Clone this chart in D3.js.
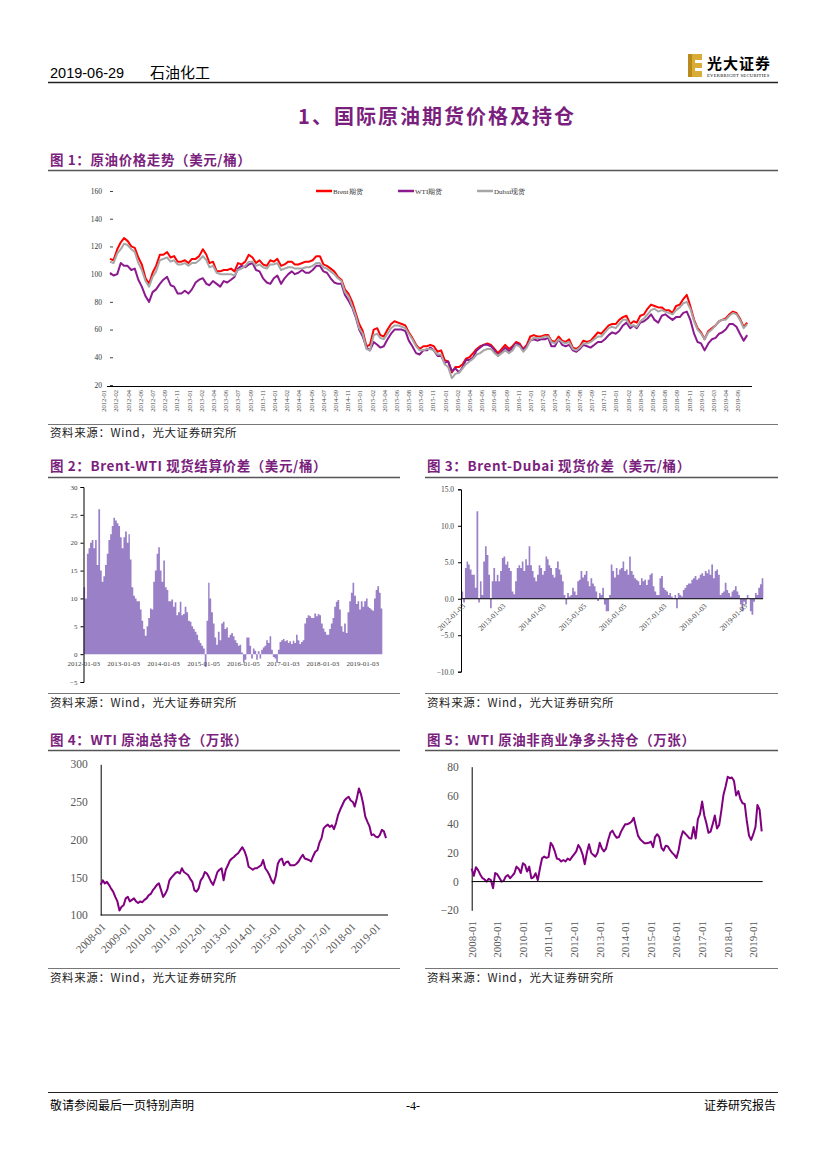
<!DOCTYPE html>
<html><head><meta charset="utf-8">
<script src="https://cdn.jsdelivr.net/npm/d3@7"></script>
<style>body{margin:0;background:#fff;}svg{display:block;}</style>
</head><body>
<svg id="page" width="827" height="1169"></svg>
<script>
// ---------- DATA ----------
// Chart 1: semi-monthly, 2012-01 .. 2019-06 (USD/bbl)
const brent = [111,110,118,123,126,124,120,119,112,107,97,93,101,106,114,114,116,112,113,109,109,110,108,111,
111,113,118,114,108,109,102,102,103,103,104,102,108,107,109,114,112,108,110,107,106,110,109,111,
106,107,109,109,107,107,108,109,109,110,113,113,107,106,104,102,98,96,89,86,80,72,64,59,
48,49,60,61,56,55,60,64,66,65,64,63,58,54,49,46,48,48,49,48,44,45,38,37,
29,33,33,35,39,40,43,46,48,49,50,49,46,43,46,49,46,48,51,50,46,49,55,56,
55,55,56,56,52,51,55,52,51,53,47,46,48,52,51,52,55,58,57,60,63,64,64,67,
69,70,64,66,65,70,71,75,78,77,76,76,74,74,72,77,78,82,85,77,67,61,58,53,
59,61,63,66,67,68,71,73,72,68,62,65];
const wti = [101,99,100,108,106,106,103,104,96,91,84,80,87,89,93,96,98,92,91,86,86,88,86,89,
94,96,97,93,92,95,93,91,95,94,96,98,104,106,105,107,108,103,102,97,94,93,97,99,
93,97,100,102,100,101,103,101,101,103,106,106,102,101,97,94,93,93,85,81,76,69,60,55,
47,45,51,49,47,48,53,57,60,60,60,59,52,48,43,42,45,45,47,45,41,41,36,37,
30,32,29,33,38,38,40,45,47,49,49,48,45,41,44,47,44,47,50,49,45,48,52,53,
52,53,53,54,48,48,53,49,48,49,45,44,46,49,48,47,49,51,51,53,56,58,57,59,
63,65,61,63,61,65,66,68,71,67,65,70,71,69,67,69,69,72,73,67,57,51,50,45,
50,53,54,57,58,60,64,64,62,57,52,56];
const dubai = [109,108,115,118,122,121,118,116,108,103,95,91,98,102,110,111,112,109,110,107,107,108,106,108,
108,110,113,110,105,106,101,100,100,100,100,99,103,104,106,109,109,106,107,105,104,107,107,108,
103,104,105,105,104,104,104,105,105,106,108,108,105,104,102,100,97,95,87,84,77,70,61,57,
46,45,56,57,54,53,57,61,63,63,62,61,57,53,48,45,45,46,46,45,42,42,35,33,
25,28,29,32,35,37,39,42,43,45,46,46,43,41,43,45,43,45,49,48,44,47,52,54,
54,54,55,55,51,50,53,51,50,51,46,45,47,50,50,51,53,55,55,58,61,62,61,64,
67,67,63,63,62,66,68,71,74,75,73,74,73,72,71,74,76,79,80,75,66,60,57,53,
58,60,63,66,67,67,70,72,71,67,61,64];
const c1Series = ["Brent期货","WTI期货","Dubai现货"];
const c1YTicks = [20,40,60,80,100,120,140,160];
const c1XTicks = ["2012-01","2012-02","2012-04","2012-06","2012-07","2012-09","2012-11","2013-01","2013-02","2013-04",
"2013-06","2013-07","2013-09","2013-11","2014-01","2014-02","2014-04","2014-06","2014-07","2014-09",
"2014-11","2015-01","2015-02","2015-04","2015-06","2015-08","2015-09","2015-11","2016-01","2016-02",
"2016-04","2016-06","2016-08","2016-09","2016-11","2017-01","2017-02","2017-04","2017-06","2017-08",
"2017-09","2017-11","2018-01","2018-02","2018-04","2018-06","2018-08","2018-09","2018-11","2019-01",
"2019-03","2019-04","2019-06"];

// Chart 2: Brent-WTI spot spread, semi-monthly 2012-01 .. 2019-06
const brentWti = [12,10,18,19,20,20.5,19,20.5,16,26,15,13,14,16,18,20.5,21.5,23,24.5,24,23.5,23,21,19,
21,22,20,21.5,17,12,10.5,10,9.5,9.5,8,6,4.5,3.3,5,6.5,8.2,8,13,15,18,19.2,15,13,
16.8,12,11.5,9.5,9.5,9.8,8.5,9.3,7,7.5,9.4,7,7.2,8.5,7.5,6,5.8,5,4.5,4,3.5,2.5,2,1.5,
1,-2.3,6,12.8,10,7.5,5.5,3,1.7,4,2.5,5.5,5.8,4.5,4.8,3,3.5,3.8,3.2,2.5,2,1.5,1.7,0.3,
-1.5,-1,3,3,1.5,-0.8,1,0.6,-1,0.5,-0.8,0.8,1.2,1.5,2.5,2,3.2,0.8,-0.5,-0.8,-1.5,0.8,2.2,2.5,
2.7,2.3,2.5,2,2.3,1.8,2.4,2,3.5,2.5,1.8,2.2,2.5,5.5,6.5,7,6.8,6.5,6.5,7.3,6.8,7.2,7,5.5,
4.6,4,3.5,3.5,4.5,5.5,6.5,8.5,9.4,9.7,8,5,4,5.5,3.8,7.5,9.5,11,12.8,10.5,9,9.5,8,9.5,
8.5,9.5,10,8.5,8.3,8,7.8,10,11.5,12.2,11,8.2];
const c2YTicks = [-5,0,5,10,15,20,25,30];
const c2XTicks = ["2012-01-03","2013-01-03","2014-01-03","2015-01-05","2016-01-05","2017-01-03","2018-01-03","2019-01-03"];

// Chart 3: Brent-Dubai spot spread, semi-monthly 2012-01 .. 2019-06
const brentDubai = [1,-0.5,4.2,5.1,4.7,4,3.3,3.3,1.5,12,-0.5,2.4,0.5,5.1,7.2,6,3.3,-1.3,2.4,4.2,2.4,3.3,2.4,3.8,
5.6,5.8,4.7,5.1,4.2,3.8,1,0.6,2.4,4.2,4.6,4.2,5.1,3.8,5.4,4.6,7.2,4.6,3.8,2.9,2.4,3.3,4.6,4.2,
3.3,3.8,5.8,5.4,4.6,4.2,3.3,2.9,4.2,5.1,4,3.3,2.4,0.5,-0.8,0.8,0.3,0.5,1.5,1,0.5,2.4,2.6,3.8,
2.9,3.3,3.8,2.4,1.7,2.8,2.1,1.7,1,-0.3,0.8,0.5,1.5,-0.8,-1.7,-1.7,0.5,4.7,3.8,2.9,4.2,3.3,4,4.2,
5.1,3.8,4,3.3,5.8,3.8,3.3,2.8,2.6,2.4,1.9,2.8,2.4,2.6,1.9,2.6,3.3,3.5,1.7,1,0.5,0.5,2.8,3.1,
1.5,1.2,1,0.5,0.8,0.3,0.1,0.5,-1.3,0.8,0.5,0.3,1.2,1.5,1.9,2.1,2.1,2.6,2.8,3.1,2.6,2.8,3.3,3.5,
3.1,3.8,3.5,4,3.3,4.7,2.8,3.8,4,3.3,0.5,0.8,1,2.2,1.2,0.8,0.3,1,1.2,1.7,1,0.5,-0.8,-1.7,
-0.4,-0.8,0.5,0.1,-1.7,-2.2,-0.4,0.8,0.5,1.5,2.0,2.8];
const c3YTicks = [-10,-5,0,5,10,15];
const c3XTicks = ["2012-01-03","2013-01-03","2014-01-03","2015-01-05","2016-01-05","2017-01-03","2018-01-03","2019-01-03"];

// Chart 4: WTI total open interest (10k contracts), monthly 2008-01 .. 2019-06
const wtiOI = [140,146,142,144,140,135,131,124,118,106,111,113,
122,124,118,120,122,118,116,118,117,120,122,126,
128,133,136,140,142,133,124,128,134,146,150,153,
156,157,155,162,157,155,153,148,144,133,131,135,
146,150,157,155,150,144,140,148,157,160,162,146,
160,166,172,175,177,180,182,186,190,185,177,164,
162,160,162,162,164,166,173,162,158,153,146,142,
151,168,173,175,166,170,171,166,166,166,168,171,
176,180,175,174,173,171,178,184,186,196,202,215,
218,220,217,219,214,222,233,240,246,252,255,257,
252,250,244,255,268,260,248,231,224,218,206,207,
204,203,206,213,211,202];
const c4YTicks = [100,150,200,250,300];

// Chart 5: WTI non-commercial net long (10k contracts), monthly 2008-01 .. 2019-05
const wtiNetLong = [9,4,10,8,5,2.5,1.5,0,2,1,-4.6,6,
5,2.5,0,0.5,3.5,4.6,2.3,4,5.8,10.4,9,6,
12.8,11.6,7,10.4,2.3,3,5.8,1,9.3,16.2,17.4,16.5,
17,27,25,21,16,15.5,14,15,14,16,15,17,
19,21,25.5,23,19,12,20,26,20,18.6,17.4,20,
27,23,21,23,29,34,35.5,32.5,30.5,31,34.8,37.5,
40,40,40.6,41.8,44.5,38,32,29.5,28,26.7,26.7,27,
27.8,24,31,33,31,23.5,21.5,25,24.4,22,20,18.6,
16.5,22,30,35,33.6,32,30.2,30,38,30,43.5,47,
55.7,46,41,34,34.8,40,46,37,39.4,49,60.3,66,
73,72,72.5,70,60,63,57.5,54.5,54,42,32,29,
33,38,53.4,50,35];
const c5YTicks = [-20,0,20,40,60,80];
const yearTicks = ["2008-01","2009-01","2010-01","2011-01","2012-01","2013-01","2014-01","2015-01","2016-01","2017-01","2018-01","2019-01"];

// ---------- DRAW ----------
const svg = d3.select('#page');
const CJK = '"Noto Sans CJK SC","Noto Sans",sans-serif';
const SERIF = '"Liberation Serif","DejaVu Serif",serif';
const SANS = '"Liberation Sans",Arial,sans-serif';
const TPURP = '#7b1f7e';
const hm = (y0, i) => new Date(y0, Math.floor(i / 2), i % 2 ? 16 : 1);
const mo = (y0, i) => new Date(y0, i, 1);
const parseYM = d3.timeParse('%Y-%m');
const parseYMD = d3.timeParse('%Y-%m-%d');

function text(x, y, s, o = {}) {
  return svg.append('text').attr('x', x).attr('y', y).text(s)
    .attr('font-family', o.ff || CJK).attr('font-size', o.fs || 12)
    .attr('font-weight', o.fw || 'normal').attr('fill', o.fill || '#000')
    .attr('text-anchor', o.anchor || 'start')
    .attr('letter-spacing', o.ls || 0);
}
function hline(x1, x2, y, w = 1, c = '#333') {
  svg.append('line').attr('x1', x1).attr('x2', x2).attr('y1', y).attr('y2', y)
    .attr('stroke', c).attr('stroke-width', w);
}

// Header
text(50, 78, '2019-06-29', {ff: SANS, fs: 14.5});
text(150, 78, '石油化工', {fs: 15});
hline(48, 778, 82.5, 1.5, '#222');
const lg = svg.append('g');
lg.append('rect').attr('x', 688).attr('y', 54).attr('width', 14).attr('height', 23).attr('fill', '#d9ad35');
lg.append('rect').attr('x', 695).attr('y', 60).attr('width', 7).attr('height', 3).attr('fill', '#fff');
lg.append('rect').attr('x', 695).attr('y', 68).attr('width', 7).attr('height', 3).attr('fill', '#fff');
lg.append('rect').attr('x', 688).attr('y', 54).attr('width', 4).attr('height', 23).attr('fill', '#b98a1c');
text(707, 69, '光大证券', {fs: 15, fw: 'bold', ls: 1});
text(707, 76.5, 'EVERBRIGHT SECURITIES', {ff: SERIF, fs: 4.6, ls: 0.3});

// Section title
text(437, 124, '1、国际原油期货价格及持仓', {fs: 20, fw: 'bold', fill: TPURP, anchor: 'middle', ls: 2});

// Figure titles & rules
const figTitle = (x, y, s) => text(x, y, s, {fs: 13.5, fw: 'bold', fill: TPURP, ls: 0.6});
figTitle(50, 165, '图 1：原油价格走势（美元/桶）');
hline(48, 778, 170.5, 1.5, '#555');
figTitle(50, 471, '图 2：Brent-WTI 现货结算价差（美元/桶）');
figTitle(427, 471, '图 3：Brent-Dubai 现货价差（美元/桶）');
hline(48, 400, 477.5, 1.5, '#555'); hline(425, 778, 477.5, 1.5, '#555');
figTitle(50, 745, '图 4：WTI 原油总持仓（万张）');
figTitle(427, 745, '图 5：WTI 原油非商业净多头持仓（万张）');
hline(48, 400, 750.5, 1.5, '#555'); hline(425, 778, 750.5, 1.5, '#555');

// Source lines
const src = '资料来源：Wind，光大证券研究所';
hline(48, 778, 424.5, 1.2, '#777');
text(50, 437, src, {fs: 11.5, ls: 0.6, fill: '#222'});
hline(48, 400, 693.5, 1.2, '#777'); hline(425, 778, 693.5, 1.2, '#777');
text(50, 707, src, {fs: 11.5, ls: 0.6, fill: '#222'});
text(427, 707, src, {fs: 11.5, ls: 0.6, fill: '#222'});
hline(48, 400, 968.5, 1.2, '#777'); hline(425, 778, 968.5, 1.2, '#777');
text(50, 982, src, {fs: 11.5, ls: 0.6, fill: '#222'});
text(427, 982, src, {fs: 11.5, ls: 0.6, fill: '#222'});

// Footer
hline(48, 778, 1092.5, 1, '#222');
text(50, 1110, '敬请参阅最后一页特别声明', {fs: 12});
text(413, 1110, '-4-', {ff: SERIF, fs: 12, anchor: 'middle'});
text(776, 1110, '证券研究报告', {fs: 12, anchor: 'end'});

// ---------- Chart 1 ----------
{
  const x = d3.scaleTime().domain([new Date(2012, 0, 1), new Date(2019, 5, 28)]).range([110, 750]);
  const y = d3.scaleLinear().domain([20, 160]).range([385, 191]);
  const g = svg.append('g');
  const ya = g.append('g').attr('transform', 'translate(113,0)')
    .call(d3.axisLeft(y).tickValues(c1YTicks).tickSize(3).tickPadding(8));
  ya.select('.domain').remove();
  ya.selectAll('line').attr('stroke', '#444');
  ya.selectAll('text').attr('font-family', SERIF).attr('font-size', 7.5).attr('fill', '#333');
  hline(107, 752, 386.5, 1, '#000');
  const xl = d3.scaleLinear().domain([0, c1XTicks.length - 1]).range([104, 738]);
  g.selectAll('.c1x').data(c1XTicks).join('text')
    .attr('transform', (d, i) => `translate(${xl(i)},390) rotate(-90)`)
    .attr('text-anchor', 'end').attr('dy', '0.35em')
    .attr('font-family', SERIF).attr('font-size', 6.5).attr('fill', '#444').text(d => d);
  const ln = d3.line().x((d, i) => x(hm(2012, i))).y(d => y(d));
  const cols = ['#ff0000', '#8b1a8e', '#a6a6a6'];
  [brent, wti, dubai].forEach((s, k) => {
    g.append('path').datum(s).attr('d', ln).attr('fill', 'none')
      .attr('stroke', cols[k]).attr('stroke-width', 2).attr('stroke-linejoin', 'round');
  });
  const lx = [316, 398, 477];
  c1Series.forEach((s, k) => {
    hline(lx[k], lx[k] + 16, 191, 2.5, cols[k]);
    text(lx[k] + 17, 193.5, s, {ff: SERIF, fs: 7, fill: '#333'});
  });
}

// step-bar area helper (dense daily bars look like a continuous column fill)
function barArea(g, data, x, y, y0, color) {
  const pts = data.map((v, i) => [hm(2012, i), v]);
  pts.push([hm(2012, data.length), data[data.length - 1]]);
  const ar = d3.area().curve(d3.curveStepAfter)
    .x(d => x(d[0])).y0(y(0)).y1(d => y(d[1]));
  g.append('path').datum(pts).attr('d', ar).attr('fill', color).attr('stroke', 'none');
}

// ---------- Chart 2 ----------
{
  const x = d3.scaleTime().domain([new Date(2012, 0, 1), new Date(2019, 5, 28)]).range([83.5, 382]);
  const y = d3.scaleLinear().domain([-5, 30]).range([682, 487]);
  const g = svg.append('g');
  barArea(g, brentWti, x, y, 0, '#9a80c7');
  const ya = g.append('g').attr('transform', 'translate(83.5,0)')
    .call(d3.axisLeft(y).tickValues(c2YTicks).tickSize(3).tickPadding(3));
  ya.select('.domain').attr('stroke', '#000');
  ya.selectAll('text').attr('font-family', SERIF).attr('font-size', 7).attr('fill', '#444');
  g.selectAll('.c2x').data(c2XTicks).join('text')
    .attr('x', d => x(parseYMD(d))).attr('y', 666)
    .attr('text-anchor', 'middle').attr('font-family', SERIF).attr('font-size', 7).attr('fill', '#444')
    .text(d => d);
}

// ---------- Chart 3 ----------
{
  const x = d3.scaleTime().domain([new Date(2012, 0, 1), new Date(2019, 5, 28)]).range([461.5, 763]);
  const y = d3.scaleLinear().domain([-10, 15]).range([671.7, 489.3]);
  const g = svg.append('g');
  barArea(g, brentDubai, x, y, 0, '#9a80c7');
  const ya = g.append('g').attr('transform', 'translate(461,0)')
    .call(d3.axisLeft(y).tickValues(c3YTicks).tickSize(3).tickPadding(4).tickFormat(d3.format('.1f')));
  ya.select('.domain').attr('stroke', '#000');
  ya.selectAll('text').attr('font-family', SERIF).attr('font-size', 7.5).attr('fill', '#444');
  hline(461, 763, y(0), 1, '#000');
  g.selectAll('.c3x').data(c3XTicks).join('text')
    .attr('transform', d => `translate(${x(parseYMD(d)) + 2},${y(0) + 6}) rotate(-45)`)
    .attr('text-anchor', 'end').attr('dy', '0.35em')
    .attr('font-family', SERIF).attr('font-size', 7.5).attr('fill', '#444').text(d => d);
}

// ---------- Chart 4 ----------
{
  const x = d3.scaleTime().domain([new Date(2008, 0, 1), new Date(2019, 0, 1)]).range([100.7, 375.7]);
  const y = d3.scaleLinear().domain([100, 300]).range([915, 764.3]);
  const g = svg.append('g');
  const ya = g.append('g').attr('transform', 'translate(100.7,0)')
    .call(d3.axisLeft(y).tickValues(c4YTicks).tickSize(0).tickPadding(13));
  ya.select('.domain').attr('stroke', '#000');
  ya.selectAll('text').attr('font-family', SERIF).attr('font-size', 11.5).attr('fill', '#555');
  hline(100.7, 388, 915, 1, '#000');
  g.selectAll('.c4x').data(yearTicks).join('text')
    .attr('transform', d => `translate(${x(parseYM(d)) + 3},${925}) rotate(-45)`)
    .attr('text-anchor', 'end').attr('dy', '0.35em')
    .attr('font-family', SERIF).attr('font-size', 11).attr('fill', '#555').text(d => d);
  const ln = d3.line().x((d, i) => x(mo(2008, i))).y(d => y(d));
  g.append('path').datum(wtiOI).attr('d', ln).attr('fill', 'none')
    .attr('stroke', '#800080').attr('stroke-width', 2).attr('stroke-linejoin', 'round');
}

// ---------- Chart 5 ----------
{
  const x = d3.scaleTime().domain([new Date(2008, 0, 1), new Date(2019, 0, 1)]).range([471.7, 753.3]);
  const y = d3.scaleLinear().domain([-20, 80]).range([910.3, 766.7]);
  const g = svg.append('g');
  const ya = g.append('g').attr('transform', 'translate(471.7,0)')
    .call(d3.axisLeft(y).tickValues(c5YTicks).tickSize(0).tickPadding(13));
  ya.select('.domain').attr('stroke', '#000');
  ya.selectAll('text').attr('font-family', SERIF).attr('font-size', 11.5).attr('fill', '#555');
  hline(471.7, 762.7, y(0), 1, '#000');
  g.selectAll('.c5x').data(yearTicks).join('text')
    .attr('transform', d => `translate(${x(parseYM(d))},${921}) rotate(-90)`)
    .attr('text-anchor', 'end').attr('dy', '0.35em')
    .attr('font-family', SERIF).attr('font-size', 11).attr('fill', '#555').text(d => d);
  const ln = d3.line().x((d, i) => x(mo(2008, i))).y(d => y(d));
  g.append('path').datum(wtiNetLong).attr('d', ln).attr('fill', 'none')
    .attr('stroke', '#800080').attr('stroke-width', 2).attr('stroke-linejoin', 'round');
}
</script></body></html>
